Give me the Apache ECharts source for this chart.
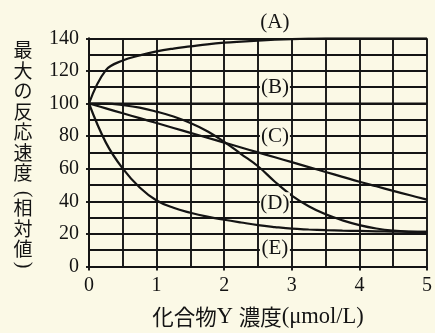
<!DOCTYPE html>
<html>
<head>
<meta charset="utf-8">
<script src="https://cdn.jsdelivr.net/npm/echarts@6/dist/echarts.min.js"></script>
<style>
  html, body { margin: 0; padding: 0; background: #fbf9e6; }
  #chart { width: 435px; height: 333px; }
</style>
</head>
<body>
<div id="chart"></div>
<script>
// Concentration of compound Y (µmol/L) at which each curve is sampled
const concY = [0, 0.25, 0.5, 0.75, 1, 1.25, 1.5, 1.75, 2, 2.25, 2.5,
               2.75, 3, 3.25, 3.5, 3.75, 4, 4.25, 4.5, 4.75, 5];

// Maximum reaction rate (relative value) for each condition
const curveA = [100, 120.5, 126.4, 129.5, 132, 133.7, 135, 136.3, 137.3, 138, 138.6,
                139.1, 139.5, 139.8, 140, 140, 140, 140, 140, 140, 140];
const curveB = [100, 100, 100, 100, 100, 100, 100, 100, 100, 100, 100,
                100, 100, 100, 100, 100, 100, 100, 100, 100, 100];
const curveC = [100, 97, 94, 91, 88, 85, 82, 79, 76, 73, 70,
                67, 64, 61, 58, 55, 52, 49.2, 46.4, 43.7, 41];
const curveD = [100, 99.9, 99, 97.5, 95, 92, 88, 83, 76.5, 69, 61.5,
                52, 43.5, 37, 32, 28.3, 25.4, 23.3, 22, 21.4, 21.2];
const curveE = [100, 76, 60, 48.5, 40.5, 36, 33, 30.6, 28.7, 27, 25.4,
                24.2, 23.2, 22.7, 22.3, 22, 21.8, 21.6, 21.4, 21.3, 21.2];

// Curve tags and where they sit
const tagNames = ['(A)', '(B)', '(C)', '(D)', '(E)'];
const tagX = [2.75, 2.75, 2.75, 2.75, 2.75];
const tagY = [150, 110, 80, 38.5, 10.8];

// Axis tick labels
const xTicks = [0, 1, 2, 3, 4, 5];
const yTicks = [0, 20, 40, 60, 80, 100, 120, 140];

const INK = '#141414';
const PAPER = '#fbf9e6';
const SERIF = "'Liberation Serif', 'Noto Sans CJK JP', serif";
const CJK = "'Noto Sans CJK JP', sans-serif";

function pairs(ys) {
  return concY.map((x, i) => [x, ys[i]]);
}

function curve(name, ys) {
  return {
    name: name,
    type: 'line',
    data: pairs(ys),
    smooth: 0.4,
    showSymbol: false,
    symbol: 'none',
    lineStyle: { color: INK, width: 2.2 },
    z: 3
  };
}

const gridLine = { show: true, lineStyle: { color: INK, width: 1.9 } };

const chart = echarts.init(document.getElementById('chart'), null, { renderer: 'canvas' });

// Vertical axis title: characters stacked top to bottom, brackets turned sideways
const titleTop = ['最', '大', 'の', '反', '応', '速', '度'];
const titleBottom = ['相', '対', '値'];
const charStyle = { fontFamily: CJK, fontSize: 19, fill: INK };
const titleX = 23;

function stack(chars, top) {
  return {
    type: 'text',
    x: titleX,
    y: top,
    style: Object.assign({ text: chars.join('\n'), lineHeight: 20.5, align: 'center', verticalAlign: 'top' }, charStyle)
  };
}

function bracket(ch, cy) {
  return {
    type: 'text',
    x: titleX,
    y: cy,
    rotation: -Math.PI / 2,
    style: { text: ch, fontFamily: SERIF, fontSize: 20, fill: INK, align: 'center', verticalAlign: 'middle' }
  };
}

chart.setOption({
  backgroundColor: PAPER,
  animation: false,
  grid: { left: 89, right: 6, top: 38.3, bottom: 63.7 },
  xAxis: {
    type: 'value',
    min: xTicks[0],
    max: xTicks[xTicks.length - 1],
    interval: 1,
    name: '{j|化合物}{l|Y }{j|濃度}{l|(μmol/L)}',
    nameLocation: 'middle',
    nameGap: 39,
    nameTextStyle: {
      color: INK,
      rich: {
        j: { fontFamily: CJK, fontSize: 21.5, color: INK },
        l: { fontFamily: SERIF, fontSize: 22.5, color: INK }
      }
    },
    axisLine: { show: true, lineStyle: { color: INK, width: 2 } },
    axisTick: { show: true, length: 4, lineStyle: { color: INK, width: 1.9 } },
    minorTick: { show: false, splitNumber: 2 },
    splitLine: gridLine,
    minorSplitLine: gridLine,
    axisLabel: { color: INK, fontFamily: SERIF, fontSize: 20, margin: 9 }
  },
  yAxis: {
    type: 'value',
    min: yTicks[0],
    max: yTicks[yTicks.length - 1],
    interval: 20,
    axisLine: { show: true, lineStyle: { color: INK, width: 2 } },
    axisTick: { show: true, length: 3, lineStyle: { color: INK, width: 1.9 } },
    minorTick: { show: false, splitNumber: 2 },
    splitLine: gridLine,
    minorSplitLine: gridLine,
    axisLabel: { color: INK, fontFamily: SERIF, fontSize: 20, margin: 10 }
  },
  graphic: [
    stack(titleTop, 40),
    bracket('(', 194),
    stack(titleBottom, 198),
    bracket(')', 265)
  ],
  series: [
    curve('A', curveA),
    curve('B', curveB),
    curve('C', curveC),
    curve('D', curveD),
    curve('E', curveE),
    {
      name: 'tags',
      type: 'scatter',
      clip: false,
      symbol: 'circle',
      symbolSize: 0.1,
      itemStyle: { color: PAPER, opacity: 1 },
      data: tagNames.map((t, i) => ({ value: [tagX[i], tagY[i]], name: t })),
      label: {
        show: true,
        position: 'inside',
        formatter: p => p.name,
        color: INK,
        opacity: 1,
        textBorderWidth: 0,
        fontFamily: SERIF,
        fontSize: 21,
        backgroundColor: PAPER,
        width: 30,
        align: 'center',
        padding: [1, 0]
      },
      emphasis: { disabled: true },
      z: 5
    }
  ]
});
</script>
</body>
</html>
